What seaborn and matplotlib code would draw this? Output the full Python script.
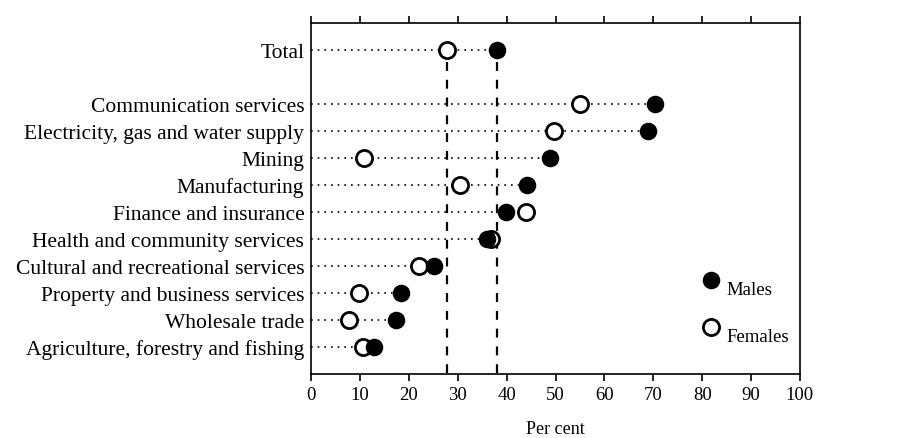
import pandas as pd
import numpy as np
import matplotlib
matplotlib.use("Agg")
import matplotlib.pyplot as plt
import seaborn as sns

# ================== DATA ==================
industries = [
    "Total",
    "Communication services",
    "Electricity, gas and water supply",
    "Mining",
    "Manufacturing",
    "Finance and insurance",
    "Health and community services",
    "Cultural and recreational services",
    "Property and business services",
    "Wholesale trade",
    "Agriculture, forestry and fishing",
]
males = [38.1, 70.3, 69.0, 48.8, 44.1, 39.8, 36.0, 25.1, 18.4, 17.4, 12.8]
females = [27.8, 55.0, 49.7, 10.9, 30.4, 43.9, 36.8, 22.1, 9.8, 7.7, 10.5]
x_ticks = [0, 10, 20, 30, 40, 50, 60, 70, 80, 90, 100]

# ================== STYLE ==================
sns.set_theme(style="white", rc={"text.color": "black",
                                 "axes.labelcolor": "black",
                                 "xtick.color": "black",
                                 "ytick.color": "black"})
plt.rcParams["font.family"] = ["Liberation Serif", "DejaVu Serif"]

# Total on top, then one empty row before the industries
pos = [0] + [i + 2 for i in range(len(industries) - 1)]

df = pd.DataFrame({"industry": industries, "pos": pos,
                   "Males": males, "Females": females})

fig, ax = plt.subplots(figsize=(9.1, 4.39), dpi=100)
fig.subplots_adjust(left=0.342, right=0.879, bottom=0.146, top=0.945)

# dotted guide from 0 to the furthest point
ax.hlines(df["pos"], 0, df[["Males", "Females"]].max(axis=1),
          colors="black", linestyles=(0, (1, 3)), linewidth=1.2, zorder=1)

# dashed reference lines at the totals
for v in [females[0], males[0]]:
    ax.vlines(v, 0.45, 12, colors="black", linestyles=(0, (4, 4)),
              linewidth=1.6, zorder=1)

sns.scatterplot(data=df, x="Females", y="pos", color="white",
                edgecolor="black", linewidth=2, s=135, ax=ax, zorder=3,
                label="Females")
sns.scatterplot(data=df, x="Males", y="pos", color="black",
                edgecolor="black", linewidth=1, s=135, ax=ax, zorder=4,
                label="Males")

ax.set_xlim(0, 100)
ax.set_ylim(12, -1)
ax.set_xticks(x_ticks)
ax.set_yticks(pos)
ax.set_yticklabels(industries, fontsize=15.5)
ax.set_xlabel("Per cent", fontsize=13, labelpad=12)
ax.set_ylabel("")

ax.tick_params(axis="x", top=True, bottom=True, direction="out",
               length=5, width=1.2, labelsize=13.5, pad=4, color="black")
ax.tick_params(axis="y", length=0, pad=5)
for s in ax.spines.values():
    s.set_color("black")
    s.set_linewidth(1.2)

handles, labels = ax.get_legend_handles_labels()
order = [labels.index("Males"), labels.index("Females")]
leg = ax.legend([handles[i] for i in order], [labels[i] for i in order],
                loc="center left", bbox_to_anchor=(0.765, 0.2),
                frameon=False, fontsize=13.5, labelspacing=1.6,
                handletextpad=0.3, handlelength=1.0)
# labels sit a little below their markers in the original
for t in leg.get_texts():
    t.set_y(-9)

plt.savefig("out.png", dpi=100)
plt.close()
